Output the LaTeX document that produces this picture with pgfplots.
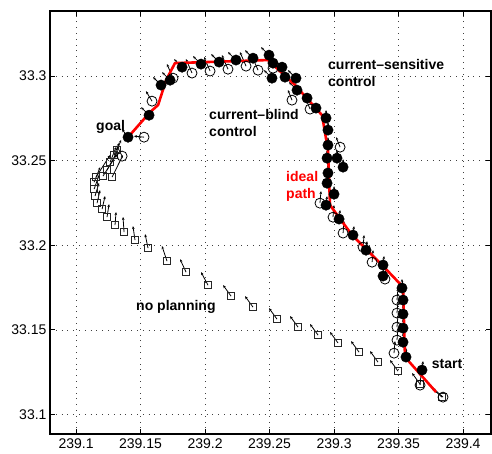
\documentclass[border=0pt]{standalone}
\usepackage{pgfplots}
\pgfplotsset{compat=1.18}
\usepackage{pgfplotstable}
\usepackage{fontspec}
\setmainfont{Liberation Sans}
\usetikzlibrary{arrows.meta}

\pgfplotstableread{
x y u v
239.3837 33.1102 -0.0078 0.0053
239.3667 33.1179 -0.0062 0.0065
239.3496 33.1256 -0.0062 0.0065
239.3341 33.1309 -0.0062 0.0065
239.3194 33.1368 -0.0062 0.0065
239.3031 33.1422 -0.0062 0.0065
239.2876 33.1469 -0.0062 0.0065
239.2721 33.1516 -0.0062 0.0065
239.2558 33.1563 -0.0062 0.0065
239.2372 33.1634 -0.0062 0.0065
239.2202 33.1699 -0.0062 0.0065
239.2023 33.1764 -0.0054 0.0077
239.1853 33.1841 -0.0047 0.0077
239.1705 33.1906 -0.0039 0.0089
239.1558 33.1983 -0.0023 0.0083
239.1457 33.2030 -0.0016 0.0083
239.1372 33.2078 -0.0008 0.0089
239.1302 33.2119 0.0008 0.0077
239.1240 33.2166 0.0016 0.0077
239.1202 33.2214 0.0023 0.0077
239.1163 33.2249 0.0023 0.0077
239.1147 33.2291 0.0031 0.0077
239.1140 33.2332 0.0039 0.0083
239.1140 33.2373 0.0047 0.0089
239.1155 33.2403 0.0109 0.0130
239.1209 33.2409 0.0109 0.0130
239.1279 33.2403 0.0085 0.0130
239.1240 33.2444 0.0085 0.0118
239.1264 33.2492 0.0047 0.0089
239.1295 33.2533 0.0039 0.0071
239.1318 33.2563 0.0031 0.0059
}\noplan

\pgfplotstableread{
x y u v
239.3845 33.1102 -0.0078 0.0053
239.3667 33.1173 0.0008 0.0071
239.3465 33.1362 0.0008 0.0071
239.3488 33.1439 0.0008 0.0071
239.3488 33.1516 0.0008 0.0071
239.3488 33.1599 0.0008 0.0071
239.3488 33.1676 0.0008 0.0071
239.3395 33.1800 0.0008 0.0071
239.3295 33.1900 0.0008 0.0071
239.3225 33.1989 0.0008 0.0071
239.3070 33.2072 0.0008 0.0071
239.2992 33.2166 0.0008 0.0071
239.2891 33.2249 0.0008 0.0071
239.3047 33.2580 -0.0031 0.0059
239.2814 33.2805 -0.0031 0.0059
239.2674 33.2858 -0.0031 0.0059
239.2527 33.3047 -0.0047 0.0083
239.2411 33.3035 -0.0047 0.0083
239.2318 33.3059 -0.0047 0.0083
239.2178 33.3041 -0.0047 0.0083
239.2039 33.3030 -0.0047 0.0083
239.1899 33.3018 -0.0047 0.0083
239.1752 33.2988 -0.0047 0.0083
239.1589 33.2852 -0.0047 0.0059
239.1527 33.2639 -0.0078 0.0006
239.1357 33.2527 -0.0039 0.0059
}\blind

\pgfplotstableread{
x y u v
239.3682 33.1262 0.0008 0.0053
239.3558 33.1339 0.0000 0.0053
239.3535 33.1427 0.0000 0.0053
239.3535 33.1510 0.0000 0.0053
239.3535 33.1593 0.0000 0.0053
239.3535 33.1676 0.0000 0.0053
239.3527 33.1747 0.0000 0.0053
239.3380 33.1818 0.0008 0.0053
239.3380 33.1883 0.0008 0.0053
239.3248 33.1971 0.0008 0.0053
239.3147 33.2060 0.0008 0.0053
239.3039 33.2155 0.0008 0.0053
239.2938 33.2237 0.0008 0.0053
239.3000 33.2302 0.0000 0.0047
239.2946 33.2367 0.0000 0.0047
239.2953 33.2427 0.0000 0.0047
239.3070 33.2462 0.0000 0.0047
239.3023 33.2515 0.0000 0.0047
239.2946 33.2515 0.0000 0.0047
239.2953 33.2592 0.0000 0.0047
239.2953 33.2681 0.0000 0.0047
239.2938 33.2752 0.0000 0.0047
239.2860 33.2811 -0.0062 0.0047
239.2791 33.2870 -0.0062 0.0047
239.2713 33.2917 -0.0062 0.0047
239.2705 33.2988 -0.0062 0.0047
239.2620 33.2994 -0.0062 0.0047
239.2519 33.2988 -0.0062 0.0047
239.2597 33.3053 -0.0062 0.0047
239.2527 33.3077 -0.0062 0.0047
239.2496 33.3124 -0.0062 0.0047
239.2372 33.3106 -0.0062 0.0047
239.2240 33.3095 -0.0062 0.0047
239.2109 33.3083 -0.0062 0.0047
239.1969 33.3071 -0.0062 0.0047
239.1822 33.3053 -0.0062 0.0047
239.1729 33.2976 -0.0062 0.0047
239.1659 33.2947 -0.0062 0.0047
239.1566 33.2769 -0.0062 0.0047
239.1403 33.2639 -0.0047 0.0047
}\sensitive

\pgfplotstableread{
x y
239.3791 33.1132
239.3550 33.1339
239.3535 33.1753
239.3395 33.1865
239.3140 33.2060
239.2969 33.2237
239.2953 33.2563
239.2907 33.2769
239.2698 33.2947
239.2488 33.3095
239.1767 33.3077
239.1698 33.2976
239.1636 33.2829
239.1574 33.2787
239.1403 33.2639
}\ideal

\begin{document}
\begin{tikzpicture}
\useasboundingbox (-50pt,-19pt) rectangle (442pt,434pt);
\begin{axis}[
  scale only axis,
  width=441pt, height=423pt,
  xmin=239.0798, xmax=239.4217,
  ymin=33.0884, ymax=33.3385,
  xtick={239.1,239.15,239.2,239.25,239.3,239.35,239.4},
  xticklabels={239.1,239.15,239.2,239.25,239.3,239.35,239.4},
  ytick={33.1,33.15,33.2,33.25,33.3},
  yticklabels={33.1,33.15,33.2,33.25,33.3},
  ticklabel style={font=\fontsize{14}{16}\selectfont},
  xticklabel style={yshift=-1.5pt},
  tick align=inside,
  major tick length=5pt,
  tick style={black, line width=0.7pt},
  axis line style={black, line width=1.2pt},
  grid=major,
  major grid style={black!75, line width=0.5pt, dash pattern=on 0.8pt off 5pt},
  clip=true,
]
% no planning
\addplot[only marks, mark=square, mark size=3.7pt, mark options={draw=black!85, line width=0.8pt, fill=none}] table[x=x,y=y] {\noplan};
\addplot[black, line width=0.8pt, quiver={u=\thisrow{u}, v=\thisrow{v}}, -{Stealth[length=3pt,width=2.6pt]}] table[x=x,y=y] {\noplan};
% current-blind
\addplot[only marks, mark=o, mark size=5pt, mark options={draw=black, line width=0.8pt, fill=none}] table[x=x,y=y] {\blind};
\addplot[black, line width=0.8pt, quiver={u=\thisrow{u}, v=\thisrow{v}}, -{Stealth[length=3pt,width=2.6pt]}] table[x=x,y=y] {\blind};
% current-sensitive
\addplot[only marks, mark=*, mark size=5.2pt, mark options={draw=black, fill=black}] table[x=x,y=y] {\sensitive};
\addplot[black, line width=0.8pt, quiver={u=\thisrow{u}, v=\thisrow{v}}, -{Stealth[length=3pt,width=2.6pt]}] table[x=x,y=y] {\sensitive};
% ideal path
\addplot[red, line width=2.6pt, no marks, line join=round] table[x=x,y=y] {\ideal};

\begin{scope}[every node/.style={anchor=base west, inner sep=0pt, font=\bfseries\fontsize{14}{16}\selectfont}]
\node at (axis cs:239.1155,33.2681) {goal};
\node at (axis cs:239.2031,33.2744) {current--blind};
\node at (axis cs:239.2031,33.2641) {control};
\node at (axis cs:239.2953,33.3040) {current--sensitive};
\node at (axis cs:239.2953,33.2937) {control};
\node[text=red] at (axis cs:239.2628,33.2375) {ideal};
\node[text=red] at (axis cs:239.2628,33.2277) {path};
\node at (axis cs:239.1465,33.1613) {no planning};
\node at (axis cs:239.3757,33.1274) {start};
\end{scope}
\end{axis}
\end{tikzpicture}
\end{document}
